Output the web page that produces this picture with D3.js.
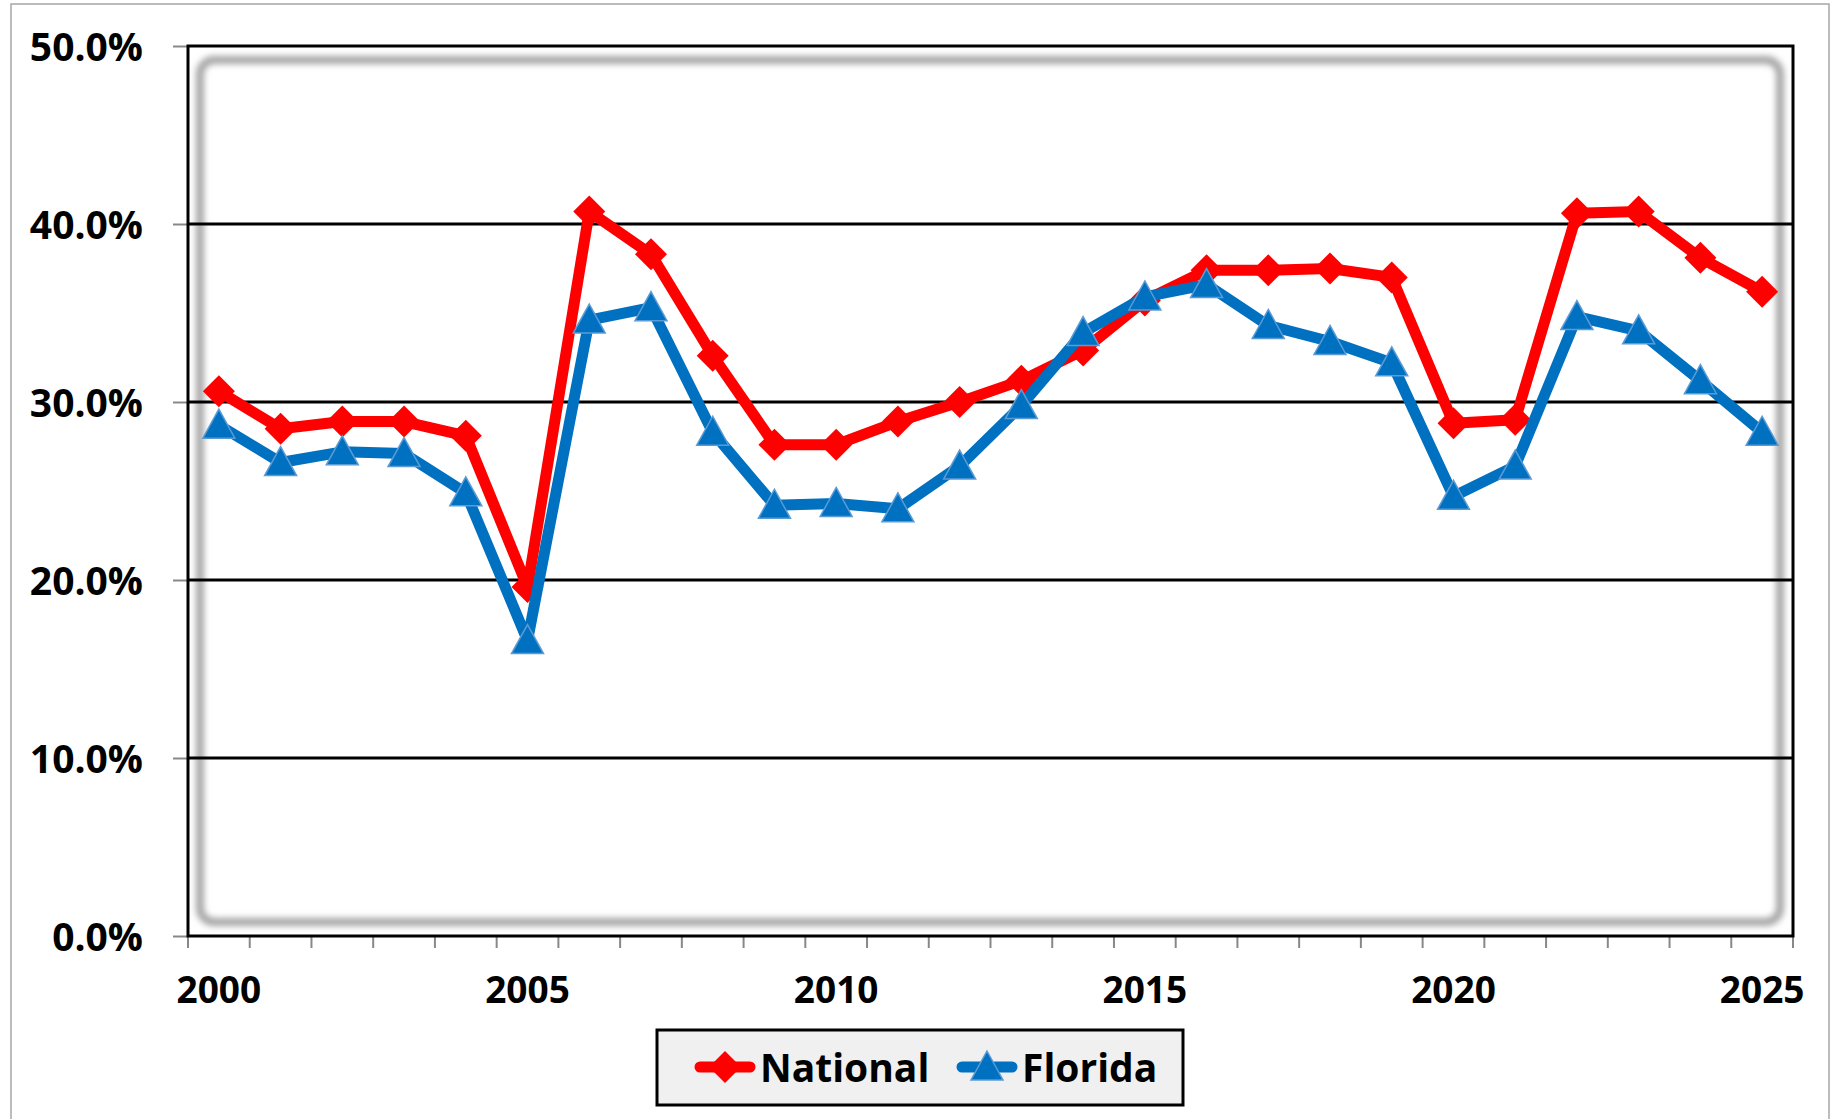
<!DOCTYPE html>
<html>
<head>
<meta charset="utf-8">
<script src="https://cdn.jsdelivr.net/npm/d3@7"></script>
<style>
  body { margin: 0; background: #fff; }
  text { font-family: "Open Sans", sans-serif; font-weight: 700; fill: #000; }
</style>
</head>
<body>
<div id="container"></div>
<script>
const years = ["2000","2001","2002","2003","2004","2005","2006","2007","2008","2009","2010","2011","2012",
  "2013","2014","2015","2016","2017","2018","2019","2020","2021","2022","2023","2024","2025"];
const national = [30.6, 28.5, 28.9, 28.9, 28.1, 19.6, 40.7, 38.3, 32.6, 27.6, 27.6, 28.9, 30.0,
  31.2, 32.9, 35.7, 37.4, 37.4, 37.5, 37.0, 28.8, 29.0, 40.6, 40.7, 38.1, 36.2];
const florida = [28.7, 26.6, 27.2, 27.1, 24.9, 16.6, 34.6, 35.3, 28.3, 24.2, 24.3, 24.0, 26.4,
  29.8, 33.9, 35.9, 36.6, 34.3, 33.4, 32.2, 24.7, 26.4, 34.8, 34.0, 31.2, 28.3];
const yTicks = [0, 10, 20, 30, 40, 50];
const xLabels = ["2000", "2005", "2010", "2015", "2020", "2025"];

const w = 1831;
const h = 1119;
const plotL = 188, plotR = 1793, plotT = 46, plotB = 936;

const svg = d3.select("#container")
  .append("svg")
  .attr("width", w)
  .attr("height", h);

const defs = svg.append("defs");
defs.append("filter")
  .attr("id", "blur")
  .attr("x", "-5%").attr("y", "-5%").attr("width", "110%").attr("height", "110%")
  .append("feGaussianBlur")
  .attr("stdDeviation", 3);

// outer chart border
svg.append("rect")
  .attr("x", 11).attr("y", 4)
  .attr("width", 1818).attr("height", 1130)
  .attr("fill", "none")
  .attr("stroke", "#a6a6a6")
  .attr("stroke-width", 1.5);

const xScale = d3.scaleBand()
  .domain(years)
  .range([plotL, plotR])
  .padding(0);

const yScale = d3.scaleLinear()
  .domain([0, 50])
  .range([plotB, plotT]);

// shadowed inner frame of the plot area
svg.append("rect")
  .attr("x", 200).attr("y", 60)
  .attr("width", 1580).attr("height", 862)
  .attr("rx", 14)
  .attr("fill", "none")
  .attr("stroke", "#a4a4a4")
  .attr("stroke-width", 8)
  .attr("filter", "url(#blur)");

// gridlines
svg.append("g")
  .selectAll("line")
  .data(yTicks.filter((d) => d > 0 && d < 50))
  .enter()
  .append("line")
  .attr("x1", plotL).attr("x2", plotR)
  .attr("y1", (d) => yScale(d)).attr("y2", (d) => yScale(d))
  .attr("stroke", "#000")
  .attr("stroke-width", 3);

// y axis
const yAxis = d3.axisLeft(yScale)
  .tickValues(yTicks)
  .tickSize(15)
  .tickPadding(30)
  .tickFormat((d) => d.toFixed(1) + "%");
const gy = svg.append("g")
  .attr("transform", "translate(" + plotL + ",0)")
  .call(yAxis);
gy.select(".domain").remove();
gy.selectAll(".tick line").attr("stroke", "#888").attr("stroke-width", 2);
gy.selectAll(".tick text").style("font-size", "39px").attr("dy", "0.36em");

// x axis ticks at category boundaries
const bounds = years.map((d) => xScale(d)).concat([plotR]);
svg.append("g")
  .selectAll("line")
  .data(bounds)
  .enter()
  .append("line")
  .attr("x1", (d) => d).attr("x2", (d) => d)
  .attr("y1", plotB).attr("y2", plotB + 12)
  .attr("stroke", "#888")
  .attr("stroke-width", 2);

const xAxis = d3.axisBottom(xScale)
  .tickValues(xLabels)
  .tickSize(0)
  .tickPadding(41);
const gx = svg.append("g")
  .attr("transform", "translate(0," + plotB + ")")
  .call(xAxis);
gx.select(".domain").remove();
gx.selectAll(".tick text").style("font-size", "37px");

// plot frame
svg.append("rect")
  .attr("x", plotL).attr("y", plotT)
  .attr("width", plotR - plotL).attr("height", plotB - plotT)
  .attr("fill", "none")
  .attr("stroke", "#000")
  .attr("stroke-width", 3);

const cx = (i) => xScale(years[i]) + xScale.bandwidth() / 2;
const line = d3.line()
  .x((d, i) => cx(i))
  .y((d) => yScale(d));

const diamond = "M0,-16L16,0L0,16L-16,0Z";
const triangle = "M0,-16L16,13L-16,13Z";

// National
svg.append("path")
  .datum(national)
  .attr("d", line)
  .attr("fill", "none")
  .attr("stroke", "#ff0000")
  .attr("stroke-width", 11)
  .attr("stroke-linejoin", "round");
svg.append("g")
  .selectAll("path")
  .data(national)
  .enter()
  .append("path")
  .attr("d", diamond)
  .attr("transform", (d, i) => "translate(" + cx(i) + "," + yScale(d) + ")")
  .attr("fill", "#ff0000");

// Florida
svg.append("path")
  .datum(florida)
  .attr("d", line)
  .attr("fill", "none")
  .attr("stroke", "#0070c0")
  .attr("stroke-width", 11)
  .attr("stroke-linejoin", "round");
svg.append("g")
  .selectAll("path")
  .data(florida)
  .enter()
  .append("path")
  .attr("d", triangle)
  .attr("transform", (d, i) => "translate(" + cx(i) + "," + yScale(d) + ")")
  .attr("fill", "#0070c0")
  .attr("stroke", "#5b9bd5")
  .attr("stroke-width", 1.5);

// legend
const legend = svg.append("g");
legend.append("rect")
  .attr("x", 657).attr("y", 1030)
  .attr("width", 526).attr("height", 75)
  .attr("fill", "#f0f0f0")
  .attr("stroke", "#000")
  .attr("stroke-width", 3);

legend.append("line")
  .attr("x1", 700).attr("x2", 750)
  .attr("y1", 1067).attr("y2", 1067)
  .attr("stroke", "#ff0000").attr("stroke-width", 11)
  .attr("stroke-linecap", "round");
legend.append("path")
  .attr("d", diamond)
  .attr("transform", "translate(725,1067)")
  .attr("fill", "#ff0000");
legend.append("text")
  .attr("x", 760).attr("y", 1082)
  .style("font-size", "39px")
  .text("National");

legend.append("line")
  .attr("x1", 962).attr("x2", 1012)
  .attr("y1", 1067).attr("y2", 1067)
  .attr("stroke", "#0070c0").attr("stroke-width", 11)
  .attr("stroke-linecap", "round");
legend.append("path")
  .attr("d", triangle)
  .attr("transform", "translate(987,1067)")
  .attr("fill", "#0070c0")
  .attr("stroke", "#5b9bd5")
  .attr("stroke-width", 1.5);
legend.append("text")
  .attr("x", 1022).attr("y", 1082)
  .style("font-size", "39px")
  .text("Florida");
</script>
</body>
</html>
